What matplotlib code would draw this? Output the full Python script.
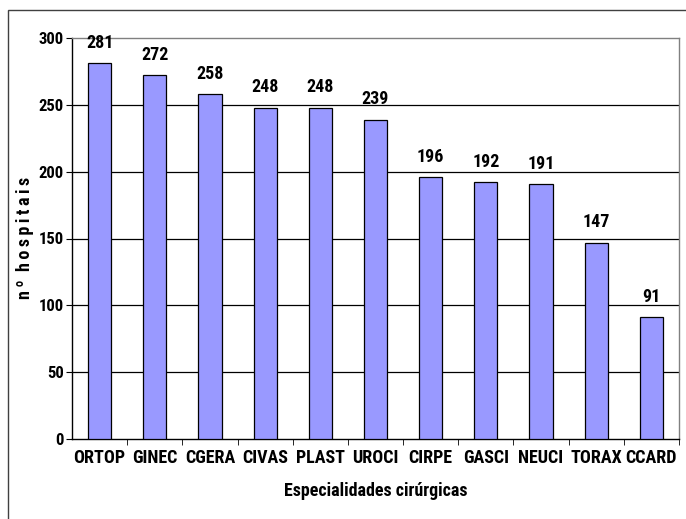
import matplotlib
matplotlib.use("Agg")
import matplotlib.pyplot as plt
from matplotlib.patches import Rectangle
from matplotlib import font_manager

categories = ["ORTOP", "GINEC", "CGERA", "CIVAS", "PLAST", "UROCI", "CIRPE", "GASCI", "NEUCI", "TORAX", "CCARD"]
values = [281, 272, 258, 248, 248, 239, 196, 192, 191, 147, 91]
yticks = [0, 50, 100, 150, 200, 250, 300]

names = {f.name for f in font_manager.fontManager.ttflist}
fam = ["Liberation Sans Narrow", "Roboto Condensed", "DejaVu Sans"]
plt.rcParams['font.family'] = [f for f in fam if f in names] or ["DejaVu Sans"]
plt.rcParams['font.stretch'] = 'condensed'

W, H = 686, 519
fig = plt.figure(figsize=(W/100, H/100), dpi=100)
ax = fig.add_axes([72/W, 1-439/H, (679-72)/W, (439-38)/H])

x = list(range(len(categories)))
ax.bar(x, values, width=0.42, color="#9999FF", edgecolor="black", linewidth=0.9, zorder=3)
for xi, v in zip(x, values):
    ax.annotate(str(v), (xi, v), xytext=(0, 8), textcoords="offset points",
                ha="center", va="bottom", fontsize=13, fontweight="bold")

ax.set_xlim(-0.5, len(categories)-0.5)
ax.set_ylim(0, 300)
ax.set_yticks(yticks)
ax.set_yticklabels([str(t) for t in yticks], fontsize=12, fontweight="bold")
ax.set_xticks(x)
ax.set_xticklabels(categories, fontsize=13, fontweight="bold")
ax.tick_params(axis="x", length=0, pad=7)
ax.set_xticks([i + 0.5 for i in range(len(categories))], minor=True)
ax.tick_params(axis="x", which="minor", length=4, color="black", direction="out")
ax.tick_params(axis="y", length=4, color="black", direction="out", pad=2)
for yv in yticks[1:-1]:
    ax.axhline(yv, color="black", linewidth=0.9, zorder=1)
ax.spines["left"].set_color("black")
ax.spines["bottom"].set_color("black")
ax.spines["top"].set_color("#808080")
ax.spines["right"].set_color("#808080")
for s in ax.spines.values():
    s.set_linewidth(1.0)

ax.set_xlabel("Especialidades cirúrgicas", fontsize=13, fontweight="bold", labelpad=11)
ax.set_ylabel("n\u2009º  h\u2009o\u2009s\u2009p\u2009i\u2009t\u2009a\u2009i\u2009s",
              fontsize=13, fontweight="bold")
ax.yaxis.set_label_coords((34 - 72) / 607, (439 - 238) / 401)

fig.patches.append(Rectangle((8/W, -0.1), 1.2, 1 - 10/H + 0.1, transform=fig.transFigure,
                             fill=False, edgecolor="#404040", linewidth=1.0, figure=fig))
fig.savefig("out.png", dpi=100)
